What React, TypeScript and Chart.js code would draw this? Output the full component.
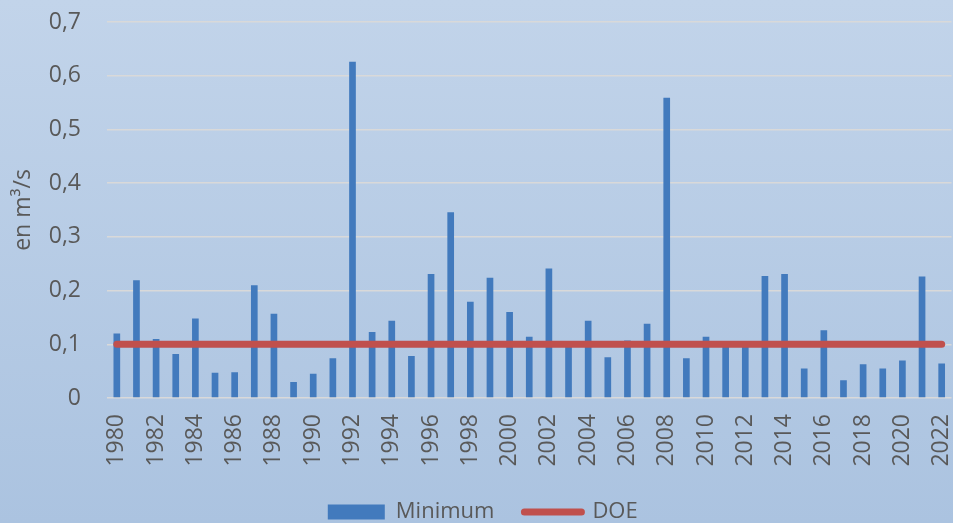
import React, { useEffect, useRef } from 'react';
import { Chart, registerables } from 'chart.js';

Chart.register(...registerables);

const years: string[] = [
  '1980', '1981', '1982', '1983', '1984', '1985', '1986', '1987', '1988', '1989',
  '1990', '1991', '1992', '1993', '1994', '1995', '1996', '1997', '1998', '1999',
  '2000', '2001', '2002', '2003', '2004', '2005', '2006', '2007', '2008', '2009',
  '2010', '2011', '2012', '2013', '2014', '2015', '2016', '2017', '2018', '2019',
  '2020', '2021', '2022',
];

const minimumValues: number[] = [
  0.120, 0.219, 0.110, 0.082, 0.148, 0.047, 0.048, 0.210, 0.157, 0.030,
  0.045, 0.074, 0.626, 0.123, 0.144, 0.078, 0.231, 0.346, 0.179, 0.224,
  0.160, 0.114, 0.241, 0.098, 0.144, 0.076, 0.107, 0.138, 0.559, 0.074,
  0.114, 0.097, 0.097, 0.227, 0.231, 0.055, 0.126, 0.033, 0.063, 0.055,
  0.070, 0.226, 0.064,
];

const doeValues: number[] = [
  0.1, 0.1, 0.1, 0.1, 0.1, 0.1, 0.1, 0.1, 0.1, 0.1,
  0.1, 0.1, 0.1, 0.1, 0.1, 0.1, 0.1, 0.1, 0.1, 0.1,
  0.1, 0.1, 0.1, 0.1, 0.1, 0.1, 0.1, 0.1, 0.1, 0.1,
  0.1, 0.1, 0.1, 0.1, 0.1, 0.1, 0.1, 0.1, 0.1, 0.1,
  0.1, 0.1, 0.1,
];

const seriesNames = ['Minimum', 'DOE'];
const yAxisTitle = 'en m³/s';

const FONT = "'Open Sans', sans-serif";
const TEXT = '#595959';
const BAR_COLOR = '#427abd';
const LINE_COLOR = '#c0504d';

export default function App() {
  const ref = useRef<HTMLCanvasElement | null>(null);

  useEffect(() => {
    document.body.style.margin = '0';
    const canvas = ref.current;
    if (!canvas) return;

    const bgPlugin = {
      id: 'bgGradient',
      beforeDraw(chart: any) {
        const { ctx, width, height } = chart;
        const g = ctx.createLinearGradient(0, 0, 0, height);
        g.addColorStop(0, '#c2d4ea');
        g.addColorStop(1, '#abc3e0');
        ctx.save();
        ctx.fillStyle = g;
        ctx.fillRect(0, 0, width, height);
        ctx.restore();
      },
    };

    const legendShift = {
      id: 'legendShift',
      afterLayout(chart: any) {
        if (chart.legend) {
          chart.legend.left += 7;
          chart.legend.right += 7;
        }
      },
    };

    const chart = new Chart(canvas, {
      type: 'bar',
      data: {
        labels: years,
        datasets: [
          {
            type: 'bar',
            label: seriesNames[0],
            data: minimumValues,
            backgroundColor: BAR_COLOR,
            borderWidth: 0,
            barPercentage: 0.34,
            categoryPercentage: 1.0,
            order: 2,
          } as any,
          {
            type: 'line',
            label: seriesNames[1],
            data: doeValues,
            borderColor: LINE_COLOR,
            backgroundColor: LINE_COLOR,
            borderWidth: 7,
            borderCapStyle: 'round',
            pointRadius: 0,
            pointHoverRadius: 0,
            fill: false,
            tension: 0,
            order: 1,
          } as any,
        ],
      },
      options: {
        responsive: false,
        animation: false,
        devicePixelRatio: 1,
        layout: { padding: { top: 22, left: 0, right: 1.5, bottom: -10 } },
        plugins: {
          tooltip: { enabled: false },
          legend: {
            position: 'bottom',
            labels: {
              usePointStyle: true,
              pointStyleWidth: 57,
              boxHeight: 15,
              padding: 30,
              color: TEXT,
              font: { family: FONT, size: 22 },
              sort: (a: any, b: any) => a.datasetIndex - b.datasetIndex,
              generateLabels: (chart: any) => {
                const items = Chart.defaults.plugins.legend.labels.generateLabels(chart);
                return items.map((it: any) => {
                  if (it.datasetIndex === 0) {
                    return { ...it, pointStyle: 'rect', fillStyle: BAR_COLOR, strokeStyle: BAR_COLOR, lineWidth: 0 };
                  }
                  return { ...it, pointStyle: 'line', fillStyle: LINE_COLOR, strokeStyle: LINE_COLOR, lineWidth: 7, lineCap: 'round' };
                });
              },
            },
          },
        },
        scales: {
          x: {
            offset: true,
            grid: { display: false, drawTicks: false },
            border: { display: false },
            ticks: {
              autoSkip: false,
              minRotation: 90,
              maxRotation: 90,
              padding: 16,
              color: TEXT,
              font: { family: FONT, size: 23 },
              callback: (_v: any, index: number) => (index % 2 === 0 ? years[index] : ''),
            },
            afterFit: (scale: any) => {
              scale.height = 73;
              scale.paddingLeft = 0;
              scale.paddingRight = 0;
            },
          },
          y: {
            min: 0,
            max: 0.7,
            grid: { color: '#d9d9d9', lineWidth: 1.5, drawTicks: false },
            border: { display: false },
            ticks: {
              stepSize: 0.1,
              padding: 26,
              color: TEXT,
              font: { family: FONT, size: 23 },
              callback: (v: any) => {
                const n = Number(v);
                return n === 0 ? '0' : n.toFixed(1).replace('.', ',');
              },
            },
            title: {
              display: true,
              text: yAxisTitle,
              color: TEXT,
              font: { family: FONT, size: 23 },
              padding: { top: 10, bottom: 0 },
            },
            afterFit: (scale: any) => {
              scale.width = 107;
              scale.paddingTop = 0;
              scale.paddingBottom = 0;
            },
          },
        },
      },
      plugins: [bgPlugin, legendShift],
    });

    return () => chart.destroy();
  }, []);

  return <canvas ref={ref} width={953} height={523} style={{ display: 'block', width: 953, height: 523 }} />;
}
